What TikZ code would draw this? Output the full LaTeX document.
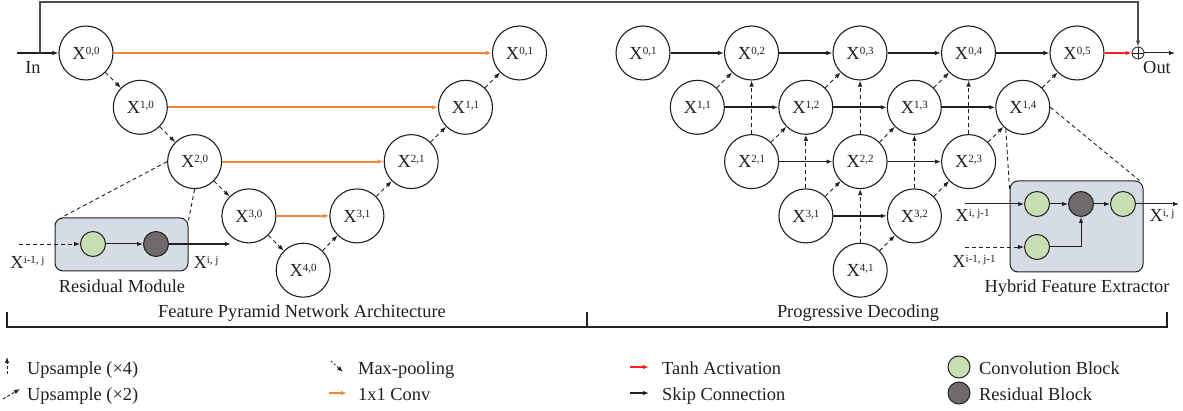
\documentclass[tikz,border=0pt]{standalone}
\usepackage{fontspec}
\setmainfont{Liberation Serif}
\usetikzlibrary{arrows.meta}
\definecolor{linec}{HTML}{231F20}
\definecolor{orangec}{HTML}{F0883A}
\definecolor{redc}{HTML}{FF1F1F}
\definecolor{boxc}{HTML}{D6DCE5}
\definecolor{greenc}{HTML}{C6E0B4}
\definecolor{darkc}{HTML}{6F6B6A}
\definecolor{topc}{HTML}{4D4D4D}
\newcommand{\xs}[1]{X\raisebox{5pt}{\fontsize{11}{11}\selectfont #1}}
\begin{document}
\begin{tikzpicture}[x=1pt,y=-1pt,
  font=\fontsize{18.4}{20}\selectfont,
  fm/.style={circle,draw=linec,line width=1.1pt,minimum size=54pt,inner sep=0pt,text=linec},
  tipa/.style={-{Latex[length=6pt,width=4.5pt]}},
  dsh/.style={tipa,draw=linec,line width=0.9pt,dash pattern=on 4pt off 3pt},
  skp/.style={tipa,draw=linec,line width=1.6pt},
  conv/.style={tipa,draw=orangec,line width=2pt},
  thin/.style={tipa,draw=linec,line width=1pt},
  guide/.style={draw=linec,line width=0.9pt,dash pattern=on 4pt off 3pt},
  blk/.style={circle,draw=linec,line width=1pt,minimum size=25pt,inner sep=0pt},
  gblk/.style={blk,fill=greenc},
  dblk/.style={blk,fill=darkc},
  modbox/.style={draw=linec,fill=boxc,rounded corners=8pt,line width=1pt,minimum width=133pt,inner sep=0pt},
  lbl/.style={text=linec,inner sep=0pt},
  lg/.style={lbl,anchor=base west}
]
\useasboundingbox (0,0) rectangle (1183,411);

% ---------- left: feature pyramid ----------
\node[fm] (a00) at (86,53) {\xs{0,0}};
\node[fm] (a10) at (140.3,107.3) {\xs{1,0}};
\node[fm] (a20) at (194.6,161.6) {\xs{2,0}};
\node[fm] (a30) at (248.9,215.9) {\xs{3,0}};
\node[fm] (a40) at (303.2,270.2) {\xs{4,0}};
\node[fm] (a31) at (356.9,215.9) {\xs{3,1}};
\node[fm] (a21) at (411.2,161.6) {\xs{2,1}};
\node[fm] (a11) at (465.5,107.3) {\xs{1,1}};
\node[fm] (a01) at (519.5,53) {\xs{0,1}};

\draw[dsh] (a00) -- (a10);
\draw[dsh] (a10) -- (a20);
\draw[dsh] (a20) -- (a30);
\draw[dsh] (a30) -- (a40);
\draw[dsh] (a40) -- (a31);
\draw[dsh] (a31) -- (a21);
\draw[dsh] (a21) -- (a11);
\draw[dsh] (a11) -- (a01);
\draw[conv] (a00) -- (a01);
\draw[conv] (a10) -- (a11);
\draw[conv] (a20) -- (a21);
\draw[conv] (a30) -- (a31);

% input and top skip
\coordinate (inS) at (17,53);
\coordinate (tj) at (40,53);
\draw[skp,line width=1.3pt] (inS) -- (a00);
\node[lbl,anchor=base] (inl) at (33,74) {In};

% ---------- right: progressive decoding ----------
\node[fm] (b01) at (643,53) {\xs{0,1}};
\node[fm] (b11) at (697.3,107.3) {\xs{1,1}};
\node[fm] (b21) at (751.6,161.6) {\xs{2,1}};
\node[fm] (b31) at (805.9,215.9) {\xs{3,1}};
\node[fm] (b41) at (860.2,270.2) {\xs{4,1}};
\node[fm] (b02) at (751.5,53) {\xs{0,2}};
\node[fm] (b12) at (805.8,107.3) {\xs{1,2}};
\node[fm] (b22) at (860.1,161.6) {\xs{2,2}};
\node[fm] (b32) at (914.4,215.9) {\xs{3,2}};
\node[fm] (b03) at (860,53) {\xs{0,3}};
\node[fm] (b13) at (914.3,107.3) {\xs{1,3}};
\node[fm] (b23) at (968.6,161.6) {\xs{2,3}};
\node[fm] (b04) at (968.5,53) {\xs{0,4}};
\node[fm] (b14) at (1022.8,107.3) {\xs{1,4}};
\node[fm] (b05) at (1077,53) {\xs{0,5}};

% skip connections
\draw[skp] (b01) -- (b02);
\draw[skp] (b02) -- (b03);
\draw[skp] (b03) -- (b04);
\draw[skp] (b04) -- (b05);
\draw[skp] (b11) -- (b12);
\draw[skp] (b12) -- (b13);
\draw[skp] (b13) -- (b14);
\draw[skp] (b21) -- (b22);
\draw[skp] (b22) -- (b23);
\draw[skp] (b31) -- (b32);
% upsample x2
\draw[dsh] (b11) -- (b02);
\draw[dsh] (b21) -- (b12);
\draw[dsh] (b12) -- (b03);
\draw[dsh] (b31) -- (b22);
\draw[dsh] (b22) -- (b13);
\draw[dsh] (b13) -- (b04);
\draw[dsh] (b41) -- (b32);
\draw[dsh] (b32) -- (b23);
\draw[dsh] (b23) -- (b14);
\draw[dsh] (b14) -- (b05);
% upsample x4
\draw[dsh] (b21.north) -- (b21.north |- b02.south);
\draw[dsh] (b31.north) -- (b31.north |- b12.south);
\draw[dsh] (b22.north) -- (b22.north |- b03.south);
\draw[dsh] (b41.north) -- (b41.north |- b22.south);
\draw[dsh] (b32.north) -- (b32.north |- b13.south);
\draw[dsh] (b23.north) -- (b23.north |- b04.south);

% output
\node[circle,draw=linec,line width=0.8pt,minimum size=12pt,inner sep=0pt] (op) at (1138,53) {};
\draw[linec,line width=0.7pt] (op.north) -- (op.south) (op.west) -- (op.east);
\draw[tipa,draw=topc,line width=1.3pt] (tj) |- (op.north |- 0,2) -- (op.north);
\draw[tipa,draw=redc,line width=1.8pt] (b05) -- (op);
\coordinate (outE) at (1175,53);
\draw[thin] (op) -- (outE);
\node[lbl,anchor=base] (outl) at (1157,74) {Out};

% ---------- residual module ----------
\node[modbox,minimum height=53pt] (res) at (121.5,244.5) {};
\node[gblk] (r1) at (93,244) {};
\node[dblk] (r2) at (156,244) {};
\coordinate (rin) at (19,244);
\coordinate (rout) at (231,244);
\draw[dsh] (rin) -- (r1);
\draw[thin] (r1) -- (r2);
\draw[thin,line width=1.2pt] (r2) -- (rout);
\draw[guide] (a20.west) -- ([xshift=7pt]res.north west);
\draw[guide] (a20.south) -- ([yshift=-3pt]res.north east);
\node[lbl] (rl1) at (27.5,262) {\xs{i-1, j}};
\node[lbl] (rl2) at (206,262) {\xs{i, j}};
\node[lbl,anchor=base] (rt) at (122,293) {Residual Module};

% ---------- hybrid feature extractor ----------
\node[modbox,minimum height=91pt] (hyb) at (1076.5,226.5) {};
\node[gblk] (h1) at (1037,204) {};
\node[dblk] (h2) at (1081,204) {};
\node[gblk] (h3) at (1123,204) {};
\node[gblk] (h4) at (1037,247) {};
\coordinate (hin1) at (965,204);
\coordinate (hin2) at (965,247);
\coordinate (hout) at (1179,204);
\draw[thin] (hin1) -- (h1);
\draw[dsh] (hin2) -- (h4);
\draw[thin] (h1) -- (h2);
\draw[thin] (h2) -- (h3);
\draw[thin] (h3) -- (hout);
\draw[thin] (h4.east) -| (h2.south);
\draw[guide] (b14.232) -- ([yshift=-9pt]hyb.north west);
\draw[guide] (b14.east) -- ([xshift=-4pt]hyb.north east);
\node[lbl] (hl1) at (972.5,215) {\xs{i, j-1}};
\node[lbl] (hl2) at (974,261) {\xs{i-1, j-1}};
\node[lbl] (hl3) at (1162,215) {\xs{i, j}};
\node[lbl,anchor=base] (ht) at (1077,293) {Hybrid Feature Extractor};

% ---------- section brackets ----------
\draw[linec,line width=1.8pt] (7,312) -- (7,327) -- (1167,327) -- (1167,312);
\draw[linec,line width=1.8pt] (587,327) -- (587,312);
\node[lbl,anchor=base] (s1) at (302,318) {Feature Pyramid Network Architecture};
\node[lbl,anchor=base] (s2) at (858,318) {Progressive Decoding};

% ---------- legend ----------
\coordinate (l1a) at (7,374);   \coordinate (l1b) at (7,357);
\draw[tipa,draw=linec,line width=0.9pt,dash pattern=on 3pt off 2pt] (l1a) -- (l1b);
\node[lg] (t1) at (27,374) {Upsample (×4)};
\coordinate (l2a) at (3,399);   \coordinate (l2b) at (20,389);
\draw[tipa,draw=linec,line width=0.9pt,dash pattern=on 3pt off 2pt] (l2a) -- (l2b);
\node[lg] (t2) at (27,400) {Upsample (×2)};
\coordinate (l3a) at (331,361); \coordinate (l3b) at (343,372);
\draw[tipa,draw=linec,line width=0.9pt,dash pattern=on 2pt off 2pt] (l3a) -- (l3b);
\node[lg] (t3) at (358,374) {Max-pooling};
\coordinate (l4a) at (329,393); \coordinate (l4b) at (347,393);
\draw[tipa,draw=orangec,line width=1.3pt] (l4a) -- (l4b);
\node[lg] (t4) at (358,400) {1x1 Conv};
\coordinate (l5a) at (630,367); \coordinate (l5b) at (649,367);
\draw[tipa,draw=redc,line width=1.3pt] (l5a) -- (l5b);
\node[lg] (t5) at (662,374) {Tanh Activation};
\coordinate (l6a) at (630,393); \coordinate (l6b) at (649,393);
\draw[tipa,draw=linec,line width=1.3pt] (l6a) -- (l6b);
\node[lg] (t6) at (662,400) {Skip Connection};
\node[gblk,minimum size=22pt] (c1) at (959,367) {};
\node[lg] (t7) at (979,374) {Convolution Block};
\node[dblk,minimum size=22pt] (c2) at (959,393) {};
\node[lg] (t8) at (979,400) {Residual Block};
\end{tikzpicture}
\end{document}
